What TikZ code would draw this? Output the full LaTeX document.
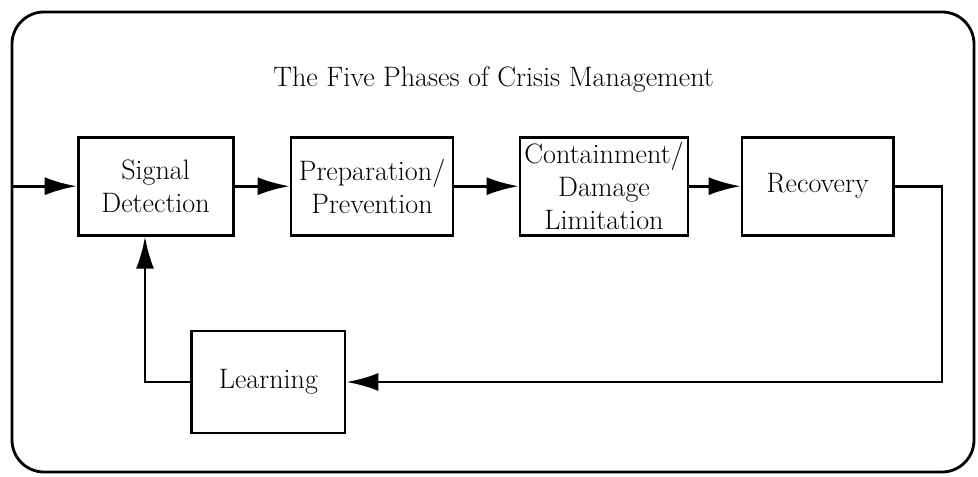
\documentclass[tikz,border=0pt]{standalone}
\usetikzlibrary{arrows.meta}

\begin{document}
\begin{tikzpicture}[phase/.style={draw,line width=2pt,align=center,inner sep=2pt,minimum height=2.45cm,font=\fontsize{20}{23.5}\selectfont},
arr/.style={line width=2pt,-{Latex[length=0.8cm,width=0.45cm]}}]
\useasboundingbox (0,0) rectangle (24.45,11.925);
\draw[line width=2pt,rounded corners=0.8cm] (0.3,0.125) rectangle (24.35,11.625);
\node[font=\fontsize{20}{23.5}\selectfont] (title) at (12.34,9.925) {The Five Phases of Crisis Management};
\node[phase,minimum width=3.875cm] (signal) at (3.89,7.27) {Signal\\ Detection};
\node[phase,minimum width=4.05cm] (prep) at (9.3,7.27) {Preparation/\\ Prevention};
\node[phase,minimum width=4.2cm] (contain) at (15.1,7.27) {Containment/\\ Damage\\ Limitation};
\node[phase,minimum width=3.78cm] (recovery) at (20.44,7.27) {Recovery};
\node[phase,minimum width=3.83cm,minimum height=2.55cm] (learning) at (6.71,2.375) {Learning};
\coordinate (entry) at (0.3,7.27);
\coordinate (turn) at (23.55,7.27);
\coordinate (back) at (3.625,2.375);

\draw[arr] (entry) -- (signal); \draw[arr] (signal) -- (prep); \draw[arr] (prep) -- (contain); \draw[arr] (contain) -- (recovery); \draw[arr] (recovery.east) -- (turn) |- (learning.east); \draw[arr] (learning.west) -- (back) -- (back |- signal.south);
\end{tikzpicture}
\end{document}
